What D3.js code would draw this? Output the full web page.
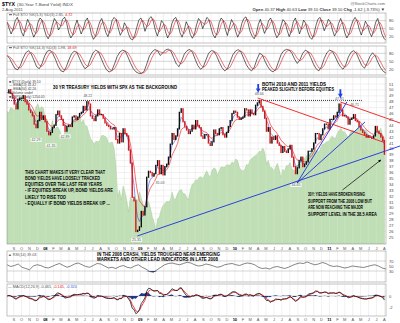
<!DOCTYPE html>
<html><head><meta charset="utf-8">
<script src="https://cdn.jsdelivr.net/npm/d3@7/dist/d3.min.js"></script>
<style>html,body{margin:0;padding:0;background:#fff}svg{display:block}</style>
</head><body>
<svg id="chart" width="400" height="323"></svg>
<script>
// ---------------- DATA ----------------
const startDate = "2007-08-06";   // first weekly bar (Mondays)
const endDate = "2011-08-07";
// $TYX weekly closes (yield x10)
const yields = [49.5,50.0,49.4,48.6, 47.6,46.8,48.4,48.6, 48.6,49.0,48.0,47.6,46.6, 46.2,45.6,44.2,43.6, 44.8,46.2,45.0,45.6,44.6,
 43.0,42.4,42.8,43.6, 44.0,45.8,46.4,45.6, 45.0,44.0,43.0,43.8,44.0, 43.8,45.4,45.6,45.0, 45.4,46.0,46.2,47.2, 46.6,48.0,47.6,45.6,45.2, 44.8,45.6,46.6,45.8, 45.8,45.2,44.4,44.0, 43.8,43.4,43.4,43.6,41.6, 41.0,42.6,41.2,43.4, 42.6,42.2,39.8,37.6, 31.8,31.2,26.0,26.2,26.8,
 29.4,28.8,30.2,35.2, 36.2,36.0,35.4,35.8, 37.2,38.0,35.8,37.2,35.6, 37.0,37.4,38.6,40.8, 42.6,41.6,42.2,43.4, 46.2,46.8,44.6,43.8,43.2, 42.6,43.0,44.0,43.4, 44.8,44.0,43.6,42.2,41.8, 42.4,42.4,41.0,40.6, 41.2,43.2,42.6,42.4, 43.4,43.6,42.4,42.0,42.8, 43.8,44.8,46.0,46.4,
 46.2,45.4,45.0,45.2, 45.4,46.8,46.6,45.6, 46.6,46.0,45.8,47.4,47.8, 48.2,47.2,46.4,45.2, 43.0,43.6,41.0,42.0,41.6, 42.2,41.0,40.6,39.4, 40.4,39.6,39.4,40.0, 40.6,38.6,37.0,35.8,36.8, 38.0,38.6,37.0,37.4, 37.8,39.6,39.6,40.0, 41.0,42.6,42.6,41.6,42.4, 43.4,44.2,44.2,43.4,
 45.0,45.0,45.6,45.4,46.2, 47.6,46.6,45.6,45.6, 45.4,44.2,45.0,45.2, 45.8,44.8,44.6,43.8, 43.2,42.8,42.4,42.0,42.2, 42.0,41.8,42.2,43.8, 43.0,42.6,42.0,41.4, 39.1];
// $SPX weekly closes (background)
const spx = [1453,1445,1479,1474, 1454,1484,1526,1527, 1557,1561,1500,1535,1509, 1453,1458,1440,1481, 1504,1467,1484,1478,1411,
 1401,1325,1330,1395, 1331,1349,1353,1330, 1294,1288,1329,1316,1370, 1332,1390,1397,1413, 1388,1425,1375,1400, 1360,1360,1317,1278,1262, 1239,1260,1257,1260, 1296,1298,1292,1282, 1242,1251,1255,1213,1099, 899,940,877,968, 930,873,800,896, 876,879,887,872,931,
 890,850,832,825, 868,826,770,735, 683,756,768,815,842, 856,869,866,877, 929,882,887,919, 940,946,921,918,896, 879,940,979,987, 1010,1005,1026,1029,1016, 1042,1068,1044,1025, 1071,1087,1080,1036, 1069,1093,1091,1091,1106, 1106,1102,1126,1115,
 1144,1136,1091,1073, 1066,1075,1109,1104, 1138,1149,1159,1166,1178, 1194,1192,1217,1187, 1110,1135,1087,1089,1064, 1091,1117,1076,1022, 1078,1065,1102,1101, 1121,1079,1071,1064,1104, 1110,1125,1148,1146, 1165,1176,1183,1183, 1225,1199,1199,1189,1224, 1240,1243,1256,1258,
 1271,1293,1283,1276,1310, 1329,1343,1320,1321, 1304,1279,1313,1332, 1328,1320,1337,1364, 1340,1338,1333,1331,1300, 1271,1271,1268,1339, 1344,1316,1345,1292, 1254];
// Full STO %K(5,3) readings, evenly spaced over the period
const stochFast = [75,52,30,48,80,92,70,38,22,55,85,68,40,18,35,72,90,82,50,25,12,30,62,88,76,45,58,85,93,70,34,15,28,60,82,55,30,48,78,90,64,28,10,22,50,75,88,62,35,20,45,80,92,84,52,25,40,72,58,30,12,8,25,55,82,90,72,40,62,88,95,78,45,22,48,80,70,38,15,32,68,86,92,66,35,18,42,76,60,28,14,30,64,88,78,50,70,92,85,55,28,15,35,72,90,80,48,24,56,84,70,40,18,36,70,88,94,72,40,22,12,30,65,85,58,32,50,80,90,68,36,16,28,60,84,74,44,20,40,76,90,62,30,52,82,70,38,18,10,28,62,86,92,70,42,60,85,75,45,22,38,70,88,66,34,15,30,58,80,92,78,48,26,50,78,64,36,20,42,74,88,60,30,14,6];
// Full STO %K(14,3) readings
const stochSlow = [72,60,40,22,18,35,62,82,90,78,55,30,22,40,70,88,92,80,58,32,15,10,28,55,78,88,84,60,38,22,30,58,82,92,86,62,38,18,10,15,40,68,85,92,88,66,42,22,10,5,4,12,40,70,86,94,90,72,82,93,96,88,64,40,30,52,78,90,95,84,58,34,20,28,55,80,90,88,70,46,26,14,22,48,74,88,94,86,62,38,22,14,28,58,80,74,50,30,16,10,20,48,76,90,95,92,80,58,42,56,80,92,86,64,40,22,14,30,60,82,92,88,70,48,30,20,36,66,84,90,80,56,34,24,44,68,82,70,46,26,12,6];
// RSI(14) readings
const rsi = [55,48,52,58,45,40,35,50,55,52,45,42,48,55,60,52,45,50,58,62,55,48,45,52,60,58,50,42,45,40,48,52,45,42,50,55,45,38,28,25,35,45,55,60,62,58,55,60,65,62,55,50,52,58,55,50,45,48,55,58,60,55,52,58,62,60,55,45,40,42,38,45,48,44,40,45,52,58,62,60,66,60,55,58,64,60,52,48,50,46,42,45,50,48,46,44,48,52,55,50,42,38];
const yieldTicks = [25,26,27,28,29,30,31,32,33,34,35,36,37,38,39,40,41,42,43,44,45,46,47,48,49,50,51];
const stochTicks = [20,50,80];
const rsiTicks = [30,50,70];
const macdTicks = [-2,0];
const monthLetters = ["J","F","M","A","M","J","J","A","S","O","N","D"];
// trend lines drawn on the chart (date, yield)
const redLines = [[["2010-03-30",48.63],["2011-08-03",41.05]], [["2011-02-12",47.95],["2011-09-30",44.39]]];
const blueLines = [[["2010-08-29",34.22],["2011-03-09",47.95]], [["2010-08-29",34.22],["2011-05-18",44.56]], [["2008-12-21",25.24],["2011-09-30",40.49]]];
const resistance = [["2007-08-06",48.22],["2011-05-06",48.22]];
const pointerArrow = [["2011-02-20",33.03],["2011-07-18",38.12]];
const downArrows = [["2010-04-01",51.0,49.5],["2011-02-12",50.1,48.6]];
const priceLabels = [["2007-11-26",42.29,"42.29",1],["2008-01-23",41.35,"41.35",1],["2008-03-17",42.89,"42.89",1],["2008-06-13",48.22,"48.22",-1],
 ["2008-12-18",25.35,"25.35",1],["2009-03-18",35.0,"35.03",1],["2010-04-05",48.66,"48.66",-1],["2010-08-25",34.65,"34.65",1],["2011-02-09",47.81,"47.81",-1],["2011-04-08",46.71,"46.71",-1]];

// ---------------- CHART ----------------
const FONT = "'Liberation Sans', Arial, Helvetica, sans-serif";
const svg = d3.select("#chart");
svg.append("rect").attr("width",400).attr("height",323).attr("fill","#fff");
const parse = d3.timeParse("%Y-%m-%d");
const t0 = parse(startDate), t1 = parse(endDate);
const weekDates = yields.map((_, i) => d3.timeDay.offset(t0, 7 * i));
const evenDates = n => d3.range(n).map(i => new Date(+t0 + i * (t1 - t0) / (n - 1)));
const X0 = 7, X1 = 386;
const x = d3.scaleTime().domain([t0, t1]).range([X0, X1]);
const P = {s1:[13,43], s2:[46,75], main:[77,244], rsi:[251,282], macd:[284,316]};
const yS1 = d3.scaleLinear().domain([0,100]).range([42,15.3]);
const yS2 = d3.scaleLinear().domain([0,100]).range([74.6,48]);
const yMain = d3.scaleLinear().domain([25,51]).range([237.4,84]);
const ySpx = d3.scaleLinear().domain([683,1561]).range([230,95]);
const yRsi = d3.scaleLinear().domain([0,100]).range([278.5,253.5]);
const yMacd = d3.scaleLinear().domain([-2,2]).range([307,285]);

const defs = svg.append("defs");
Object.entries(P).forEach(([k,[a,b]]) => defs.append("clipPath").attr("id","clip-"+k)
  .append("rect").attr("x",X0).attr("y",a).attr("width",X1-X0).attr("height",b-a));
defs.append("clipPath").attr("id","clip-ext").append("rect").attr("x",X0).attr("y",P.main[0]).attr("width",400-X0).attr("height",P.main[1]-P.main[0]);
defs.append("marker").attr("id","ah").attr("viewBox","0 0 10 10").attr("refX",9).attr("refY",5)
  .attr("markerWidth",4).attr("markerHeight",4).attr("orient","auto")
  .append("path").attr("d","M0,0L10,5L0,10Z").attr("fill","#000");

function txt(g, xx, yy, s, o = {}) {
  const t = g.append("text").attr("x", xx).attr("y", yy).text(s)
    .attr("font-family", FONT).attr("font-size", o.size || 4.4).attr("fill", o.fill || "#000");
  if (o.bold) t.attr("font-weight", "bold");
  if (o.anchor) t.attr("text-anchor", o.anchor);
  if (o.len) t.attr("textLength", o.len).attr("lengthAdjust", "spacingAndGlyphs");
  return t;
}
const months = d3.timeMonth.range(d3.timeMonth.ceil(t0), t1);

function panel(k, ticks, ys, opts = {}) {
  const [a, b] = P[k];
  const g = svg.append("g");
  g.selectAll(".v").data(months).join("line").attr("x1", d => x(d)).attr("x2", d => x(d))
    .attr("y1", a).attr("y2", b).attr("stroke", "#e2e2e2").attr("stroke-width", 0.5);
  g.selectAll(".h").data(opts.grid || []).join("line").attr("x1", X0).attr("x2", X1)
    .attr("y1", d => ys(d)).attr("y2", d => ys(d)).attr("stroke", "#e2e2e2").attr("stroke-width", 0.5);
  g.selectAll(".hk").data(opts.keyLines || []).join("line").attr("x1", X0).attr("x2", X1)
    .attr("y1", d => ys(d)).attr("y2", d => ys(d)).attr("stroke", "#a8a8a8").attr("stroke-width", 0.5);
  g.selectAll(".tl").data(ticks).join("text").attr("x", 389).attr("y", d => ys(d) + 1.5)
    .text(d => d).attr("font-family", FONT).attr("font-size", 4).attr("fill", "#444");
  return g;
}
function frame(k) {
  const [a, b] = P[k];
  svg.append("rect").attr("x", X0).attr("y", a).attr("width", X1 - X0).attr("height", b - a)
    .attr("fill", "none").attr("stroke", "#9a9a9a").attr("stroke-width", 0.6);
}

// ---- header
txt(svg, 2, 5.5, "$TYX", {bold: true, size: 5.2});
txt(svg, 17, 5.5, "(30-Year T-Bond Yield) INDX", {size: 4.4, fill: "#444"});
txt(svg, 2, 10.5, "2-Aug-2011", {size: 4, fill: "#444"});
txt(svg, 385, 5, "@StockCharts.com", {size: 4, fill: "#666", anchor: "end"});
const hdr = svg.append("text").attr("x", 385).attr("y", 11).attr("text-anchor", "end")
  .attr("font-family", FONT).attr("font-size", 4.2).attr("fill", "#333");
[["Open ",1],["40.37 ",0],["High ",1],["40.63 ",0],["Low ",1],["39.10 ",0],["Close ",1],["39.10 ",0],["Chg ",1],["-1.62 (-3.73%) \u25BC",0]]
  .forEach(([s,b]) => hdr.append("tspan").text(s).attr("font-weight", b ? "bold" : null));

// ---- stochastic panels
function stochPanel(k, vals, ys, legend, v1, v2) {
  panel(k, stochTicks, ys, {keyLines: stochTicks});
  const dts = evenDates(vals.length);
  const pts = vals.map((v, i) => ({d: dts[i], v}));
  const dLine = pts.map((p, i) => ({d: p.d, v: d3.mean(vals.slice(Math.max(0, i - 2), i + 1))}));
  const line = d3.line().x(p => x(p.d)).y(p => ys(p.v));
  const g = svg.append("g").attr("clip-path", `url(#clip-${k})`);
  g.append("path").attr("d", line(pts)).attr("fill", "none").attr("stroke", "#000").attr("stroke-width", 0.6);
  g.append("path").attr("d", line(dLine)).attr("fill", "none").attr("stroke", "#e8141c").attr("stroke-width", 0.6);
  frame(k);
  const y = P[k][0] + 3;
  svg.append("line").attr("x1", 9).attr("x2", 12).attr("y1", y - 1.3).attr("y2", y - 1.3).attr("stroke", "#000").attr("stroke-width", 0.7);
  const t = svg.append("text").attr("x", 13).attr("y", y).attr("font-family", FONT).attr("font-size", 3.8).attr("fill", "#555");
  t.append("tspan").text(legend + " " + v1 + ", ");
  t.append("tspan").text(v2).attr("fill", "#e8141c");
}
stochPanel("s1", stochFast, yS1, "Full STO %K(5,3) %D(3)", "2.85", "4.72");
stochPanel("s2", stochSlow, yS2, "Full STO %K(14,3) %D(3)", "1.98", "18.69");

// ---- main panel
panel("main", yieldTicks, yMain, {grid: yieldTicks});
const gm = svg.append("g").attr("clip-path", "url(#clip-main)");
const spxPts = spx.map((v, i) => ({d: weekDates[i], v}));
gm.append("path").datum(spxPts)
  .attr("d", d3.area().x(p => x(p.d)).y0(P.main[1]).y1(p => ySpx(p.v)))
  .attr("fill", "#bcdcb0").attr("fill-opacity", 0.92).attr("stroke", "#a2cb95").attr("stroke-width", 0.5);
gm.selectAll(".vg").data(months).join("line").attr("x1", d => x(d)).attr("x2", d => x(d))
  .attr("y1", P.main[0]).attr("y2", P.main[1]).attr("stroke", "#fff").attr("stroke-opacity", 0.25).attr("stroke-width", 0.5);
gm.append("line").attr("x1", x(parse(resistance[0][0]))).attr("x2", x(parse(resistance[1][0])))
  .attr("y1", yMain(resistance[0][1])).attr("y2", yMain(resistance[1][1]))
  .attr("stroke", "#000").attr("stroke-width", 0.8).attr("stroke-dasharray", "1,1");
function ema(vals, n) { const a = 2 / (n + 1); const out = []; vals.forEach((v, i) => out.push(i ? a * v + (1 - a) * out[i - 1] : v)); return out; }
const ema13 = ema(yields, 3.4), ema34 = ema(yields, 7.6);
const yl = d3.line().x((v, i) => x(weekDates[i])).y(v => yMain(v));
gm.append("path").attr("d", yl(ema34)).attr("fill", "none").attr("stroke", "#f03030").attr("stroke-width", 0.7);
gm.append("path").attr("d", yl(ema13)).attr("fill", "none").attr("stroke", "#3a55d8").attr("stroke-width", 0.6);
const bars = yields.slice(1).map((v, i) => ({d: weekDates[i + 1], o: yields[i], c: v}));
gm.selectAll(".bar").data(bars).join("rect")
  .attr("x", b => x(b.d) - 0.7).attr("width", 1.4)
  .attr("y", b => yMain(Math.max(b.o, b.c)) - 0.6)
  .attr("height", b => Math.abs(yMain(b.o) - yMain(b.c)) + 1.2)
  .attr("fill", b => b.c >= b.o ? "#111" : "#d81818");
const ge = svg.append("g").attr("clip-path", "url(#clip-ext)");
const seg = p => ({x1: x(parse(p[0][0])), y1: yMain(p[0][1]), x2: x(parse(p[1][0])), y2: yMain(p[1][1])});
redLines.forEach(l => { const s = seg(l); ge.append("line").attr("x1", s.x1).attr("y1", s.y1).attr("x2", s.x2).attr("y2", s.y2).attr("stroke", "#f01818").attr("stroke-width", 0.9); });
blueLines.forEach(l => { const s = seg(l); ge.append("line").attr("x1", s.x1).attr("y1", s.y1).attr("x2", s.x2).attr("y2", s.y2).attr("stroke", "#1c2ee0").attr("stroke-width", 0.9); });
{ const s = seg(pointerArrow); ge.append("line").attr("x1", s.x1).attr("y1", s.y1).attr("x2", s.x2).attr("y2", s.y2).attr("stroke", "#000").attr("stroke-width", 0.7).attr("marker-end", "url(#ah)"); }
downArrows.forEach(([d, a, b]) => {
  const xx = x(parse(d)), ya = yMain(a), yb = yMain(b);
  svg.append("rect").attr("x", xx - 0.9).attr("y", ya).attr("width", 1.8).attr("height", (yb - ya) * 0.55).attr("fill", "#1c3ee0");
  svg.append("path").attr("d", `M${xx - 2.3},${ya + (yb - ya) * 0.5}L${xx + 2.3},${ya + (yb - ya) * 0.5}L${xx},${yb}Z`).attr("fill", "#1c3ee0");
});
priceLabels.forEach(([d, v, s, dir]) => {
  const xx = x(parse(d)), yy = yMain(v) + dir * 4.5;
  gm.append("rect").attr("x", xx - 5.5).attr("y", yy - 2).attr("width", 11).attr("height", 4).attr("fill", "#fff").attr("fill-opacity", 0.85);
  txt(gm, xx, yy + 1.3, s, {size: 3.6, fill: "#555", anchor: "middle"});
});
frame("main");
[["\u25A0 $TYX (Daily) 39.10", "#000"], ["\u2014 EMA(13) 41.42", "#3a55d8"], ["\u2014 EMA(34) 42.26", "#f03030"], ["\u25A0 Volume undef", "#555"], ["\u25A0 $SPX (Daily) 1254.05", "#7fb070"]]
  .forEach(([s, c], i) => txt(svg, 9, 82.5 + i * 3.8, s, {size: 3.4, fill: "#444"}));
const A = {bold: true, size: 4.6};
txt(svg, 53, 89, "30 YR TREASURY YIELDS WITH SPX AS THE BACKGROUND", {...A, len: 124});
txt(svg, 262, 85.5, "BOTH 2010 AND 2011 YIELDS", {...A, len: 64});
txt(svg, 262, 91, "PEAKED SLIGHTLY BEFORE EQUITIES", {...A, len: 72});
[["THIS CHART MAKES IT VERY CLEAR THAT", 80], ["BOND YIELDS HAVE LOOSELY TRACKED", 75], ["EQUITIES OVER THE LAST FEW YEARS", 77],
 ["- IF EQUITIES BREAK UP, BOND YIELDS ARE", 88], ["LIKELY TO RISE TOO", 41], ["- EQUALLY IF BOND YIELDS BREAK UP ...", 85]]
  .forEach(([s, w], i) => txt(svg, 25, 173.5 + i * 6.3, s, {...A, len: w}));
[["30Y: YIELDS HAVE BROKEN RISING", 57], ["SUPPORT FROM THE 2008 LOW BUT", 64], ["ARE NOW REACHING THE MAJOR", 55], ["SUPPORT LEVEL IN THE 38.5 AREA", 69]]
  .forEach(([s, w], i) => txt(svg, 308, 196 + i * 6.6, s, {...A, len: w}));

function monthAxis(yy) {
  months.forEach(m => {
    const jan = m.getMonth() === 0;
    txt(svg, x(m), yy, jan ? d3.timeFormat("%y")(m) : monthLetters[m.getMonth()],
      {size: 4, anchor: "middle", bold: jan, fill: jan ? "#000" : "#555"});
  });
}
monthAxis(249.5);

// ---- RSI
panel("rsi", rsiTicks, yRsi, {keyLines: [30, 70]});
{
  const dts = evenDates(rsi.length);
  const pts = rsi.map((v, i) => ({d: dts[i], v}));
  const g = svg.append("g").attr("clip-path", "url(#clip-rsi)");
  g.append("path").datum(pts).attr("d", d3.area().x(p => x(p.d)).y0(yRsi(30)).y1(p => yRsi(Math.min(30, p.v))))
    .attr("fill", "#2a3f9a");
  g.append("path").datum(pts).attr("d", d3.line().x(p => x(p.d)).y(p => yRsi(p.v))).attr("fill", "none").attr("stroke", "#333").attr("stroke-width", 0.6);
}
frame("rsi");
txt(svg, 8, 255.5, "\u25B2 RSI(14) 39.03", {size: 3.8, fill: "#555"});
txt(svg, 97, 255.6, "IN THE 2008 CRASH, YIELDS TROUGHED NEAR EMERGING", {...A, len: 123});
txt(svg, 97, 261.2, "MARKETS AND OTHER LEAD INDICATORS IN LATE 2008", {...A, len: 121});

// ---- MACD
panel("macd", macdTicks, yMacd, {keyLines: [0]});
{
  const fast = ema(yields, 3.2), slow = ema(yields, 6.0);
  const macd = fast.map((v, i) => v - slow[i]);
  const sig = ema(macd, 2.6);
  const g = svg.append("g").attr("clip-path", "url(#clip-macd)");
  const pts = macd.map((v, i) => ({d: weekDates[i], m: v, s: sig[i], h: v - sig[i]}));
  g.append("path").datum(pts).attr("d", d3.area().x(p => x(p.d)).y0(yMacd(0)).y1(p => yMacd(p.h))).attr("fill", "#1f3a80");
  g.append("path").datum(pts).attr("d", d3.line().x(p => x(p.d)).y(p => yMacd(p.s))).attr("fill", "none").attr("stroke", "#e8141c").attr("stroke-width", 0.8);
  g.append("path").datum(pts).attr("d", d3.line().x(p => x(p.d)).y(p => yMacd(p.m))).attr("fill", "none").attr("stroke", "#000").attr("stroke-width", 0.7);
}
frame("macd");
{
  const t = svg.append("text").attr("x", 8).attr("y", 287.8).attr("font-family", FONT).attr("font-size", 3.8).attr("fill", "#555");
  t.append("tspan").text("\u2014 MACD(12,26,9) -0.465, ");
  t.append("tspan").text("-0.145, ").attr("fill", "#e8141c");
  t.append("tspan").text("-0.320").attr("fill", "#3a55d8");
}
monthAxis(320.5);
</script>
</body></html>
